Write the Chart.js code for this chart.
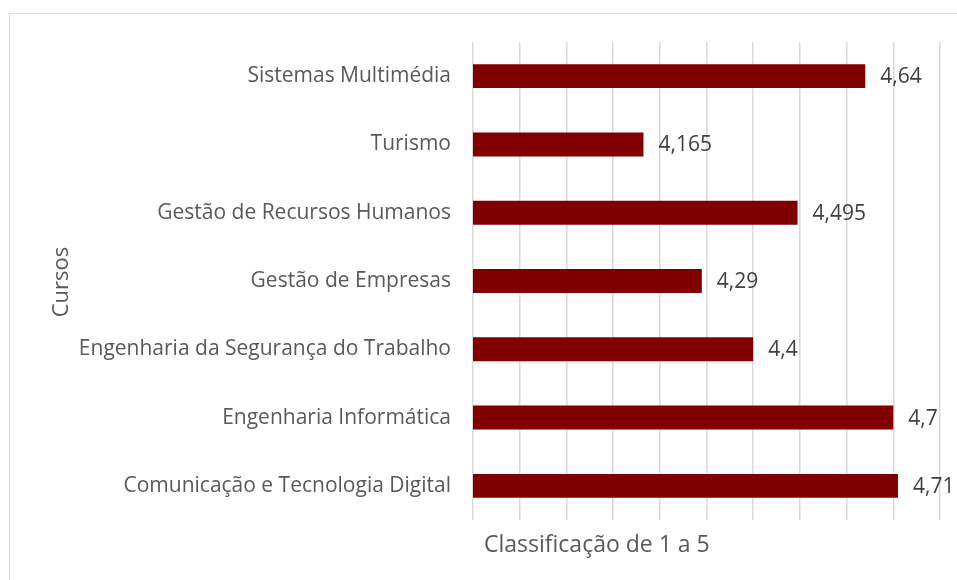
<!DOCTYPE html>
<html>
<head>
<meta charset="utf-8">
<script src="https://cdn.jsdelivr.net/npm/chart.js@4"></script>
<style>
  html, body { margin: 0; padding: 0; background: #fff; overflow: hidden; }
  #wrap { position: relative; width: 957px; height: 580px; }
  #frame { position: absolute; left: 9px; top: 13px; width: 1000px; height: 700px; border: 1px solid #d9d9d9; box-sizing: border-box; }
  #c { position: absolute; left: 0; top: 0; }
</style>
</head>
<body>
<div id="wrap">
  <div id="frame"></div>
  <canvas id="c" width="957" height="580"></canvas>
</div>
<script>
const categories = [
  "Sistemas Multimédia",
  "Turismo",
  "Gestão de Recursos Humanos",
  "Gestão de Empresas",
  "Engenharia da Segurança do Trabalho",
  "Engenharia Informática",
  "Comunicação e Tecnologia Digital"
];
const values = [4.64, 4.165, 4.495, 4.29, 4.4, 4.7, 4.71];
const xTitle = "Classificação de 1 a 5";
const yTitle = "Cursos";
const axisMin = 3.8, axisMax = 4.8, axisStep = 0.1;

const FONT = "'Open Sans', sans-serif";

const extras = {
  id: 'extras',
  afterDatasetsDraw(chart) {
    const ctx = chart.ctx;
    const meta = chart.getDatasetMeta(0);
    ctx.save();
    ctx.font = "21px " + FONT;
    ctx.fillStyle = "#404040";
    ctx.textAlign = "left";
    ctx.textBaseline = "middle";
    meta.data.forEach((bar, i) => {
      ctx.fillText(values[i].toString().replace('.', ','), bar.x + 15, bar.y + 1);
    });
    // axis titles
    const ca = chart.chartArea;
    ctx.fillStyle = "#595959";
    ctx.font = "23px " + FONT;
    ctx.textAlign = "left";
    ctx.fillText(xTitle, ca.left + 11, 545);
    ctx.font = "22px " + FONT;
    ctx.translate(62, (ca.top + ca.bottom) / 2 + 1);
    ctx.rotate(-Math.PI / 2);
    ctx.textAlign = "center";
    ctx.fillText(yTitle, 0, 0);
    ctx.restore();
  }
};

new Chart(document.getElementById('c'), {
  type: 'bar',
  data: {
    labels: categories,
    datasets: [{
      data: values,
      backgroundColor: '#800000',
      borderWidth: 0,
      barPercentage: 0.7,
      categoryPercentage: 0.5
    }]
  },
  options: {
    indexAxis: 'y',
    responsive: false,
    animation: false,
    layout: { padding: { top: 42, right: 17, left: 0, bottom: 0 } },
    plugins: { legend: { display: false }, tooltip: { enabled: false } },
    scales: {
      x: {
        min: axisMin, max: axisMax,
        ticks: { display: false, stepSize: axisStep },
        grid: { color: '#d9d9d9', lineWidth: 1.5, drawTicks: false },
        border: { display: false },
        afterFit(s) { s.height = 60; }
      },
      y: {
        ticks: { color: '#595959', font: { family: FONT, size: 21 }, padding: 22 },
        grid: { display: false, drawTicks: false },
        border: { display: false },
        afterFit(s) { s.width = 473; }
      }
    }
  },
  plugins: [extras]
});
</script>
</body>
</html>
